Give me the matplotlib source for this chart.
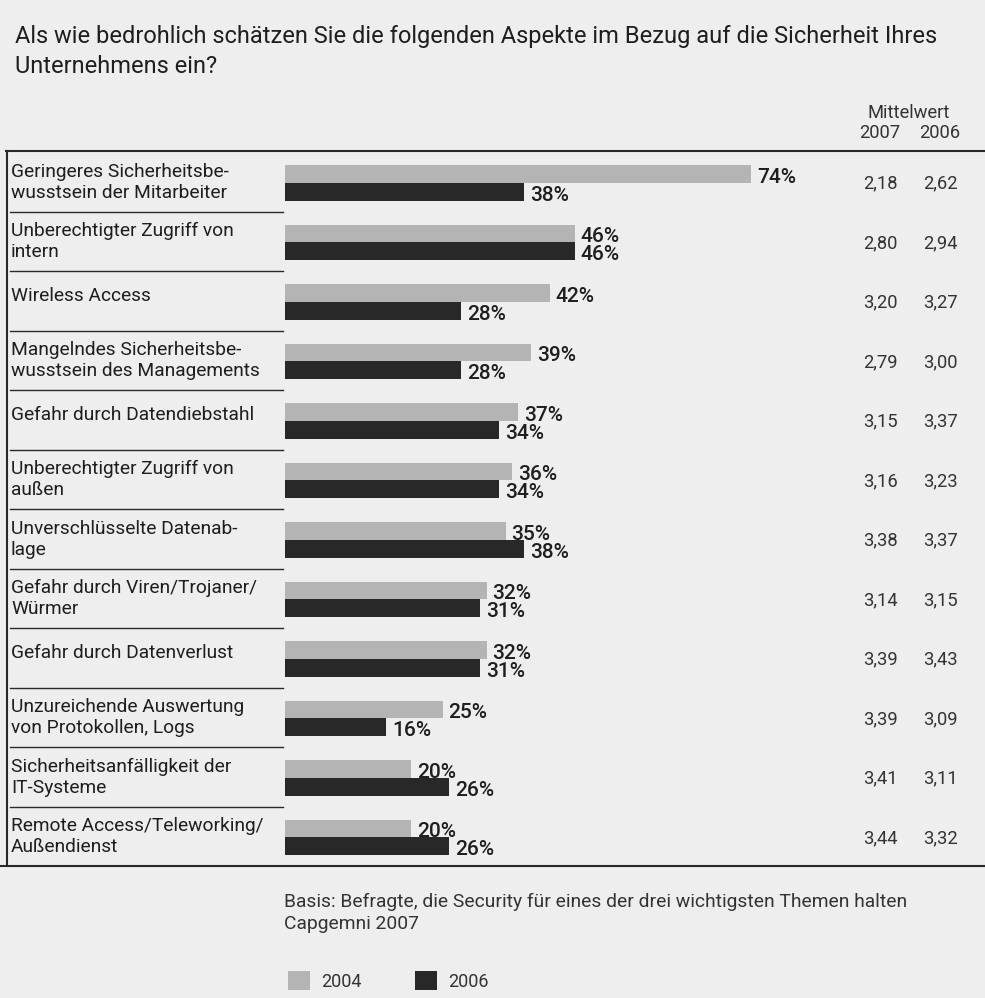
import matplotlib
matplotlib.use("Agg")
import matplotlib.pyplot as plt
from matplotlib.lines import Line2D

plt.rcParams['font.family'] = ['Roboto', 'DejaVu Sans']

title_lines = ["Als wie bedrohlich schätzen Sie die folgenden Aspekte im Bezug auf die Sicherheit Ihres",
               "Unternehmens ein?"]
categories = [
    "Geringeres Sicherheitsbe-\nwusstsein der Mitarbeiter",
    "Unberechtigter Zugriff von\nintern",
    "Wireless Access",
    "Mangelndes Sicherheitsbe-\nwusstsein des Managements",
    "Gefahr durch Datendiebstahl",
    "Unberechtigter Zugriff von\naußen",
    "Unverschlüsselte Datenab-\nlage",
    "Gefahr durch Viren/Trojaner/\nWürmer",
    "Gefahr durch Datenverlust",
    "Unzureichende Auswertung\nvon Protokollen, Logs",
    "Sicherheitsanfälligkeit der\nIT-Systeme",
    "Remote Access/Teleworking/\nAußendienst",
]
v2004 = [74, 46, 42, 39, 37, 36, 35, 32, 32, 25, 20, 20]
v2006 = [38, 46, 28, 28, 34, 34, 38, 31, 31, 16, 26, 26]
mittel_2007 = ["2,18", "2,80", "3,20", "2,79", "3,15", "3,16", "3,38", "3,14", "3,39", "3,39", "3,41", "3,44"]
mittel_2006 = ["2,62", "2,94", "3,27", "3,00", "3,37", "3,23", "3,37", "3,15", "3,43", "3,09", "3,11", "3,32"]
series_labels = ["2004", "2006"]
footer_lines = ["Basis: Befragte, die Security für eines der drei wichtigsten Themen halten",
                "Capgemni 2007"]

BG = "#eeeeee"
GRAY = "#b4b4b4"
DARK = "#282828"
TXT = "#1e1e1e"
TXT2 = "#333333"

W, H = 985, 998
fig = plt.figure(figsize=(W / 100, H / 100), dpi=100, facecolor=BG)

# overlay axes in pixel coords
ov = fig.add_axes([0, 0, 1, 1])
ov.set_xlim(0, W)
ov.set_ylim(H, 0)
ov.axis('off')

ov.text(15, 43, title_lines[0], fontsize=17, color=TXT, va='baseline', ha='left')
ov.text(15, 73, title_lines[1], fontsize=17, color=TXT, va='baseline', ha='left')

top_px, bot_px = 152, 866
n = len(categories)
row_h = (bot_px - top_px) / n

# box lines
ov.add_line(Line2D([6, W], [top_px - 1, top_px - 1], color=DARK, lw=1.5))
ov.add_line(Line2D([7, 7], [top_px - 1, bot_px], color=DARK, lw=1.5))
ov.add_line(Line2D([0, W], [bot_px, bot_px], color=DARK, lw=1.5))

# header
ov.text(909, 118, "Mittelwert", fontsize=13.2, color=TXT2, ha='center', va='baseline')
ov.text(880, 138, "2007", fontsize=13.2, color=TXT2, ha='center', va='baseline')
ov.text(940, 138, "2006", fontsize=13.2, color=TXT2, ha='center', va='baseline')

for i, cat in enumerate(categories):
    cy = top_px + (i + 0.5) * row_h
    parts = cat.split("\n")
    if len(parts) == 1:
        ov.text(11, cy, parts[0], fontsize=13.8, color=TXT, ha='left', va='baseline')
    else:
        ov.text(11, cy - 5, parts[0], fontsize=13.8, color=TXT, ha='left', va='baseline')
        ov.text(11, cy + 16, parts[1], fontsize=13.8, color=TXT, ha='left', va='baseline')
    ov.text(880, cy + 2, mittel_2007[i], fontsize=13.2, color=TXT2, ha='center', va='center')
    ov.text(940, cy + 2, mittel_2006[i], fontsize=13.2, color=TXT2, ha='center', va='center')
    if i < n - 1:
        ysep = top_px + (i + 1) * row_h
        ov.add_line(Line2D([10, 283], [ysep, ysep], color=DARK, lw=1.0))

# bars axes
px_per_pct = 6.3
left_px = 285
ax = fig.add_axes([left_px / W, (H - bot_px) / H, (W - left_px) / W, (bot_px - top_px) / H])
ax.set_xlim(0, (W - left_px) / px_per_pct)
ax.set_ylim(n - 0.5, -0.5)
ax.axis('off')

bh = 0.30
off = 0.02
ys = list(range(n))
b1 = ax.barh([y - bh / 2 + off for y in ys], v2004, height=bh, color=GRAY, label=series_labels[0])
b2 = ax.barh([y + bh / 2 + off for y in ys], v2006, height=bh, color=DARK, label=series_labels[1])

dx = 6 / px_per_pct
for y, v in zip(ys, v2004):
    ax.text(v + dx, y + off, f"{v}%", fontsize=15, color=TXT, ha='left', va='baseline', fontweight='medium')
for y, v in zip(ys, v2006):
    ax.text(v + dx, y + bh + off, f"{v}%", fontsize=15, color=TXT, ha='left', va='baseline', fontweight='medium')

# footer
ov.text(284, 907, footer_lines[0], fontsize=13.9, color=TXT2, ha='left', va='baseline')
ov.text(284, 929, footer_lines[1], fontsize=13.9, color=TXT2, ha='left', va='baseline')

fig.legend(handles=[b1, b2], labels=series_labels, loc='center left',
           bbox_to_anchor=(288 / W, (H - 981) / H), ncol=2, frameon=False,
           fontsize=13, handlelength=1.2, handleheight=1.2, handletextpad=0.65,
           columnspacing=2.95, borderpad=0, borderaxespad=0, labelcolor=TXT2)

fig.savefig("out.png", dpi=100, facecolor=BG)
